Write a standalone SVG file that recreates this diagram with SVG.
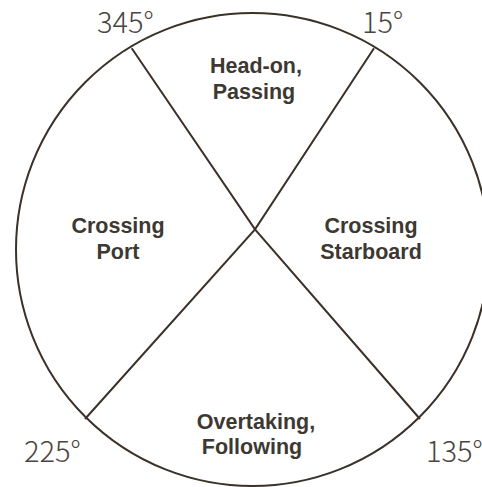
<svg xmlns="http://www.w3.org/2000/svg" width="482" height="487" viewBox="0 0 482 487">
<style>
.ln{fill:none;stroke:#3a3129;stroke-width:2}
.lb{font-family:"Liberation Sans",Arial,sans-serif;font-weight:700;font-size:21.5px;fill:#3d3832;text-anchor:middle}
.dg{font-family:"Noto Sans CJK JP","Noto Sans",sans-serif;font-weight:300;font-size:29px;fill:#4a4540}
</style>
<rect width="482" height="487" fill="#ffffff"/>
<g id="connectors">
<circle class="ln" cx="252.5" cy="249.5" r="236.5"/>
<path class="ln" d="M131.7 48.3 L255 229.3 L420 419"/>
<path class="ln" d="M374 48.3 L255 229.3 L85 419"/>
</g>
<g id="head-on"><text class="lb" x="256" y="73">Head-on,</text><text class="lb" x="254" y="99">Passing</text></g>
<g id="crossing-port"><text class="lb" x="118" y="233">Crossing</text><text class="lb" x="118" y="259">Port</text></g>
<g id="crossing-starboard"><text class="lb" x="371" y="233">Crossing</text><text class="lb" x="371" y="259">Starboard</text></g>
<g id="overtaking"><text class="lb" x="256" y="429">Overtaking,</text><text class="lb" x="252" y="454">Following</text></g>
<g id="deg345"><text class="dg" x="97" y="33">345°</text></g>
<g id="deg15"><text class="dg" x="362" y="33">15°</text></g>
<g id="deg225"><text class="dg" x="24" y="462">225°</text></g>
<g id="deg135"><text class="dg" x="426" y="462">135°</text></g>
</svg>
